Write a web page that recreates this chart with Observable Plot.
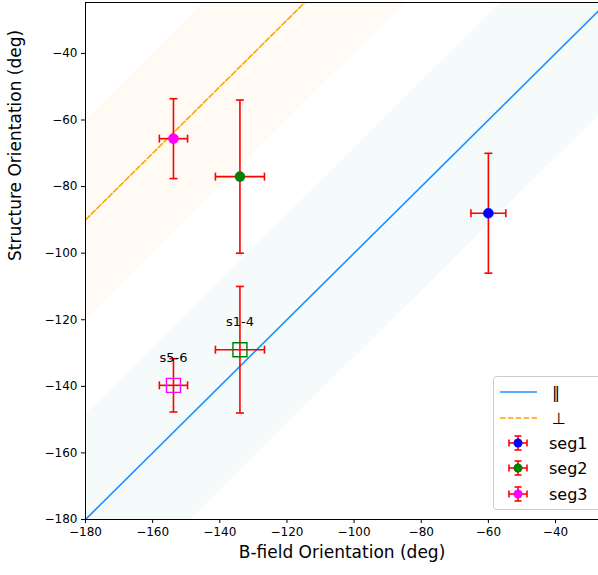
<!DOCTYPE html>
<html>
<head>
<meta charset="utf-8">
<script src="https://cdn.jsdelivr.net/npm/d3@7"></script>
<script src="https://cdn.jsdelivr.net/npm/@observablehq/plot@0.6"></script>
<style>
  html, body { margin: 0; padding: 0; background: #fff; overflow: hidden; }
  #chart { position: relative; width: 598px; height: 575px; }
</style>
</head>
<body>
<div id="chart"></div>
<script>
// ---- data ----
const xDomain = [-180, -27.2];
const yDomain = [-180, -24.7];
const xTicks = [-180, -160, -140, -120, -100, -80, -60, -40];
const yTicks = [-180, -160, -140, -120, -100, -80, -60, -40];
const diagX = [-200, 0];          // span for reference lines
const perpOffset = 90;            // perpendicular line: y = x + 90
const parBandHalf = 31.5;         // half-width of parallel band
const perpBandHalf = 30;          // half-width of perpendicular band

const segNames = ["seg1", "seg2", "seg3"];
const segX = [-60, -134, -153.8];
const segY = [-88, -77, -65.6];
const segXerr = [5.2, 7.3, 4.2];
const segYerr = [18, 23, 12];
const segColors = ["blue", "green", "magenta"];

const sqNames = ["s1-4", "s5-6"];
const sqX = [-134, -153.8];
const sqY = [-129, -139.7];
const sqXerr = [7.3, 4.2];
const sqYerr = [19, 8];
const sqColors = ["green", "magenta"];

const legendLabels = ["\u2016", "\u22A5", "seg1", "seg2", "seg3"];

// ---- build tables ----
const segs = segNames.map((n, i) => ({name: n, x: segX[i], y: segY[i], xe: segXerr[i], ye: segYerr[i], c: segColors[i]}));
const sqs = sqNames.map((n, i) => ({name: n, x: sqX[i], y: sqY[i], xe: sqXerr[i], ye: sqYerr[i], c: sqColors[i]}));
const allPts = [...segs, ...sqs];

const hCap = {draw(ctx, size) { const r = Math.sqrt(size / Math.PI); ctx.moveTo(-r, 0); ctx.lineTo(r, 0); }};
const vCap = {draw(ctx, size) { const r = Math.sqrt(size / Math.PI); ctx.moveTo(0, -r); ctx.lineTo(0, r); }};

const ebColor = "#ff0000";
const ebW = 1.6;

const plot = Plot.plot({
  width: 598,
  height: 575,
  marginLeft: 85,
  marginRight: 0,
  marginTop: 2,
  marginBottom: 56,
  style: {fontFamily: "DejaVu Sans, sans-serif", fontSize: "12px", color: "#000", background: "#fff"},
  x: {domain: xDomain},
  y: {domain: yDomain},
  marks: [
    // bands
    Plot.areaY(diagX, {x: d => d, y1: d => d - parBandHalf, y2: d => d + parBandHalf, fill: "#f5fbfb", clip: true}),
    Plot.areaY(diagX, {x: d => d, y1: d => d + perpOffset - perpBandHalf, y2: d => d + perpOffset + perpBandHalf, fill: "#fffaf3", clip: true}),
    // reference lines
    Plot.line(diagX, {x: d => d, y: d => d, stroke: "#1e90ff", strokeWidth: 1.6, clip: true}),
    Plot.line(diagX, {x: d => d, y: d => d + perpOffset, stroke: "orange", strokeWidth: 1.6, strokeDasharray: "5.5,2.4", clip: true}),
    // error bars
    Plot.link(allPts, {x1: d => d.x, x2: d => d.x, y1: d => d.y - d.ye, y2: d => d.y + d.ye, stroke: ebColor, strokeWidth: ebW}),
    Plot.link(allPts, {x1: d => d.x - d.xe, x2: d => d.x + d.xe, y1: d => d.y, y2: d => d.y, stroke: ebColor, strokeWidth: ebW}),
    Plot.dot(allPts, {x: "x", y: d => d.y + d.ye, symbol: hCap, r: 4, stroke: ebColor, strokeWidth: ebW, fill: "none"}),
    Plot.dot(allPts, {x: "x", y: d => d.y - d.ye, symbol: hCap, r: 4, stroke: ebColor, strokeWidth: ebW, fill: "none"}),
    Plot.dot(allPts, {x: d => d.x - d.xe, y: "y", symbol: vCap, r: 4, stroke: ebColor, strokeWidth: ebW, fill: "none"}),
    Plot.dot(allPts, {x: d => d.x + d.xe, y: "y", symbol: vCap, r: 4, stroke: ebColor, strokeWidth: ebW, fill: "none"}),
    // markers
    Plot.dot(segs, {x: "x", y: "y", r: 5, fill: d => d.c, stroke: d => d.c, strokeWidth: 0.5}),
    Plot.dot(sqs, {x: "x", y: "y", symbol: "square", r: 7.9, fill: "none", stroke: d => d.c, strokeWidth: 1.4}),
    // labels
    Plot.text(sqs, {x: "x", y: "y", text: "name", dy: -28, fontSize: 13, fill: "#000"}),
    // axes
    Plot.axisX({ticks: xTicks, tickSize: 4, tickPadding: 4, label: null, fontSize: 12}),
    Plot.axisY({ticks: yTicks, tickSize: 4, tickPadding: 4, label: null, fontSize: 12}),
    Plot.text(["B-field Orientation (deg)"], {frameAnchor: "bottom", dy: 38, fontSize: 17, fill: "#000"}),
    Plot.text(["Structure Orientation (deg)"], {frameAnchor: "left", dx: -70, rotate: -90, fontSize: 17, fill: "#000"}),
    Plot.frame({stroke: "#000", strokeWidth: 1})
  ]
});

document.getElementById("chart").appendChild(plot);

// ---- legend (drawn into the plot's svg) ----
const svg = d3.select(plot);
const lg = svg.append("g").style("font-family", "DejaVu Sans, sans-serif");
lg.append("rect")
  .attr("x", 493.5).attr("y", 376.5).attr("width", 110).attr("height", 133)
  .attr("rx", 3).attr("fill", "#fff").attr("fill-opacity", 0.85)
  .attr("stroke", "#cccccc").attr("stroke-width", 1);
const rowY = [392, 418, 443, 468, 494];
const textX = 549;
// line entries
lg.append("line").attr("x1", 500).attr("x2", 537).attr("y1", rowY[0]).attr("y2", rowY[0])
  .attr("stroke", "#1e90ff").attr("stroke-width", 1.6);
lg.append("line").attr("x1", 500).attr("x2", 537).attr("y1", rowY[1]).attr("y2", rowY[1])
  .attr("stroke", "orange").attr("stroke-width", 1.6).attr("stroke-dasharray", "5.5,2.4");
// errorbar entries
segs.forEach((s, i) => {
  const cy = rowY[i + 2], cx = 518;
  const g = lg.append("g").attr("stroke", ebColor).attr("stroke-width", ebW);
  g.append("line").attr("x1", cx - 9).attr("x2", cx + 9).attr("y1", cy).attr("y2", cy);
  g.append("line").attr("x1", cx).attr("x2", cx).attr("y1", cy - 7).attr("y2", cy + 7);
  g.append("line").attr("x1", cx - 9).attr("x2", cx - 9).attr("y1", cy - 3.5).attr("y2", cy + 3.5);
  g.append("line").attr("x1", cx + 9).attr("x2", cx + 9).attr("y1", cy - 3.5).attr("y2", cy + 3.5);
  g.append("line").attr("x1", cx - 3.5).attr("x2", cx + 3.5).attr("y1", cy - 7).attr("y2", cy - 7);
  g.append("line").attr("x1", cx - 3.5).attr("x2", cx + 3.5).attr("y1", cy + 7).attr("y2", cy + 7);
  lg.append("circle").attr("cx", cx).attr("cy", cy).attr("r", 4.5).attr("fill", s.c);
});
legendLabels.forEach((t, i) => {
  lg.append("text").attr("x", i < 2 ? 552 : textX).attr("y", rowY[i]).attr("dy", "0.35em")
    .attr("text-anchor", "start")
    .style("font-size", "16px").style("font-weight", "normal").attr("fill", "#000").text(t);
});
</script>
</body>
</html>
